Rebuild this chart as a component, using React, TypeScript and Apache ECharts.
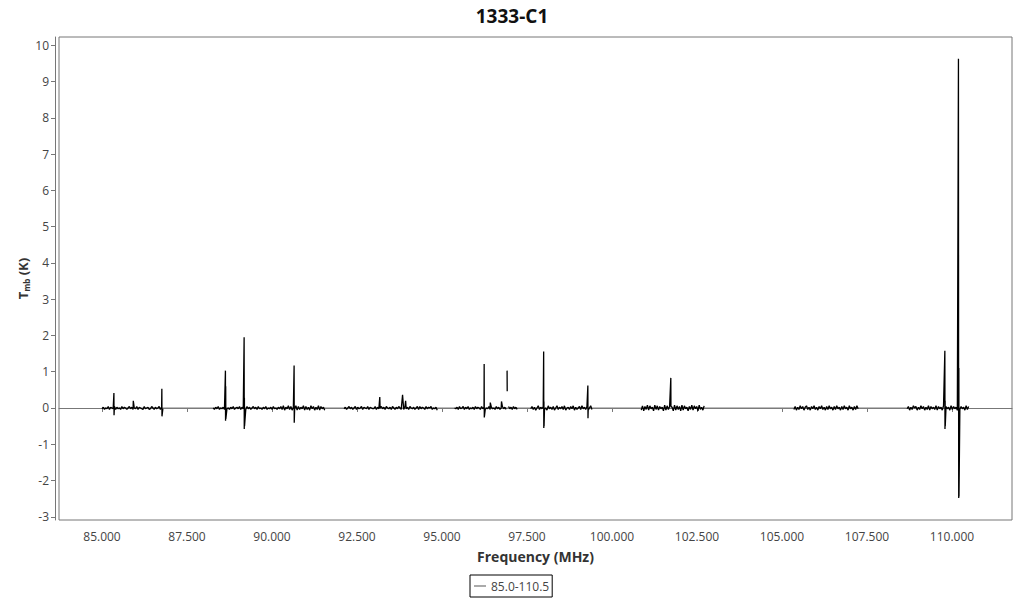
import React, { useEffect, useRef } from "react";
import * as echarts from "echarts";

const TITLE = "1333-C1";
const SERIES_NAME = "85.0-110.5";
const X_NAME = "Frequency (MHz)";
const X_TICKS = [85, 87.5, 90, 92.5, 95, 97.5, 100, 102.5, 105, 107.5, 110];
const Y_TICKS = [-3, -2, -1, 0, 1, 2, 3, 4, 5, 6, 7, 8, 9, 10];

// observed sub-band ranges (MHz)
const SEG_RANGES: [number, number][] = [
  [85.0, 86.79],
  [88.27, 91.55],
  [92.12, 94.86],
  [95.37, 97.21],
  [97.61, 99.41],
  [100.86, 102.71],
  [105.35, 107.24],
  [108.68, 110.49],
];

// baseline noise per channel, one digit per channel: value = (digit - 5) * NOISE_UNIT K
const NOISE_UNIT = 0.02;
const NOISE_1 = "46354736547364537465357463547365437456347536457364";
const NOISE_2 = "536473546374536473564736453746357463745364735463745364738264837264827364827362847263827462";
const NOISE_3 = "4635746357364573654736544736457463754637536475363746375463573746537465735462";
const NOISE_4 = "5463745736473546374653746354736453746357463574637463";
const NOISE_5 = "47362583647352846372583647382563748263573846372583";
const NOISE_6 = "2817392846193827461928374619283719284617392847193628";
const NOISE_7 = "3726384726836274836274836273846273846273846284627384";
const NOISE_8 = "47263857263847263827463827462837462837462837462837";
const NOISES = [NOISE_1, NOISE_2, NOISE_3, NOISE_4, NOISE_5, NOISE_6, NOISE_7, NOISE_8];

// emission / absorption lines: frequency (MHz) and consecutive channel values (K); null = blanked channel
const LINES: [number, (number | null)[]][] = [
  [85.35, [0.41, -0.2]],
  [85.92, [0.2]],
  [86.76, [0.53, -0.23]],
  [88.63, [1.03, -0.35, 0.6, -0.3]],
  [89.18, [1.95, -0.58, 0.28, -0.5]],
  [90.65, [1.17, -0.41]],
  [93.17, [0.3]],
  [93.84, [0.36]],
  [93.93, [0.2]],
  [96.24, [1.21, -0.26]],
  [96.42, [0.15]],
  [96.75, [0.18]],
  [96.91, [null, 1.03, 0.46, null]],
  [97.99, [1.56, -0.55, 0.18, -0.5]],
  [99.29, [0.62, -0.28]],
  [101.73, [0.83, 0.05]],
  [109.79, [1.58, -0.58, 0.2, -0.5]],
  [110.19, [9.63, 1.17, -2.48, 1.1, -2.44]],
];
const LINE_CHANNEL = 0.004;

const FONT = "'Open Sans', sans-serif";

function buildSegment(i: number): any[] {
  const [start, end] = SEG_RANGES[i];
  const digits = NOISES[i].split("").map((c) => Number(c));
  const step = (end - start) / (digits.length - 1);
  const lines = LINES.filter(([f]) => f >= start - 0.05 && f <= end + 0.05);
  let pts: any[] = digits.map((d, j) => [start + j * step, (d - 5) * NOISE_UNIT]);
  // channels occupied by a line replace the baseline noise there
  pts = pts.filter(
    ([x]) => !lines.some(([f, arr]) => x >= f - 0.003 && x <= f + arr.length * LINE_CHANNEL + 0.001)
  );
  lines.forEach(([f, arr]) => {
    arr.forEach((v, k) => pts.push([f + k * LINE_CHANNEL, v === null ? "-" : v]));
  });
  pts.sort((a, b) => a[0] - b[0]);
  return pts;
}

export default function App() {
  const ref = useRef<HTMLDivElement>(null);
  useEffect(() => {
    if (!ref.current) return;
    const chart = echarts.init(ref.current, undefined, { renderer: "svg" });
    const segSeries = SEG_RANGES.map((_, i) => ({
      name: SERIES_NAME,
      type: "line",
      data: buildSegment(i),
      showSymbol: false,
      symbol: "none",
      connectNulls: false,
      lineStyle: { color: "#000", width: 1.3 },
      itemStyle: { color: "#000" },
      z: 3,
    }));
    const first = SEG_RANGES[0][0];
    const last = SEG_RANGES[SEG_RANGES.length - 1][1];
    chart.setOption({
      animation: false,
      title: {
        text: TITLE,
        left: "center",
        top: 1,
        textStyle: { fontFamily: FONT, fontSize: 19, fontWeight: "bold", color: "#111" },
      },
      legend: {
        data: [{ name: SERIES_NAME, icon: "rect" }],
        left: 470,
        top: 575,
        orient: "horizontal",
        padding: [5, 3, 5, 4],
        itemWidth: 12,
        itemHeight: 1,
        itemGap: 5,
        borderColor: "#000",
        borderWidth: 1,
        itemStyle: { color: "#555" },
        textStyle: { fontFamily: FONT, fontSize: 12, color: "#444" },
      },
      grid: {
        left: 59,
        right: 12,
        top: 37,
        bottom: 80,
        show: true,
        borderColor: "#777",
        borderWidth: 1,
        containLabel: false,
      },
      xAxis: {
        type: "value",
        min: 83.735,
        max: 111.765,
        offset: 4,
        name: X_NAME,
        nameLocation: "middle",
        nameGap: 25,
        nameTextStyle: { fontFamily: FONT, fontSize: 14, fontWeight: "bold", color: "#333" },
        axisLine: { show: true, lineStyle: { color: "#777", width: 1 } },
        axisTick: { show: true, length: 4, customValues: X_TICKS, lineStyle: { color: "#777" } },
        axisLabel: {
          customValues: X_TICKS,
          formatter: (v: number) => v.toFixed(3),
          fontFamily: FONT,
          fontSize: 12,
          color: "#444",
          margin: 6,
        },
        splitLine: { show: false },
      },
      yAxis: {
        type: "value",
        min: -3.089,
        max: 10.23,
        offset: 4,
        name: "{t|T}{s|mb}{t| (K)}",
        nameLocation: "middle",
        nameGap: 25,
        nameMoveOverlap: false,
        nameTextStyle: {
          rich: {
            t: { fontFamily: FONT, fontSize: 13, fontWeight: "bold", color: "#333" },
            s: { fontFamily: FONT, fontSize: 8, fontWeight: "bold", color: "#333", padding: [7, 0, 0, 0] },
          },
        },
        axisLine: { show: true, lineStyle: { color: "#777", width: 1 } },
        axisTick: { show: true, length: 4, customValues: Y_TICKS, lineStyle: { color: "#777" } },
        axisLabel: {
          customValues: Y_TICKS,
          fontFamily: FONT,
          fontSize: 12,
          color: "#444",
          margin: 6,
        },
        splitLine: { show: false },
      },
      series: [
        {
          name: SERIES_NAME,
          type: "line",
          data: [
            [first, 0],
            [last, 0],
          ],
          showSymbol: false,
          symbol: "none",
          lineStyle: { color: "#808080", width: 1 },
          itemStyle: { color: "#555" },
          z: 1,
        },
        ...segSeries,
      ],
    });
    return () => chart.dispose();
  }, []);
  return (
    <div
      ref={ref}
      style={{ position: "absolute", left: 0, top: 0, width: 1024, height: 600 }}
    />
  );
}
